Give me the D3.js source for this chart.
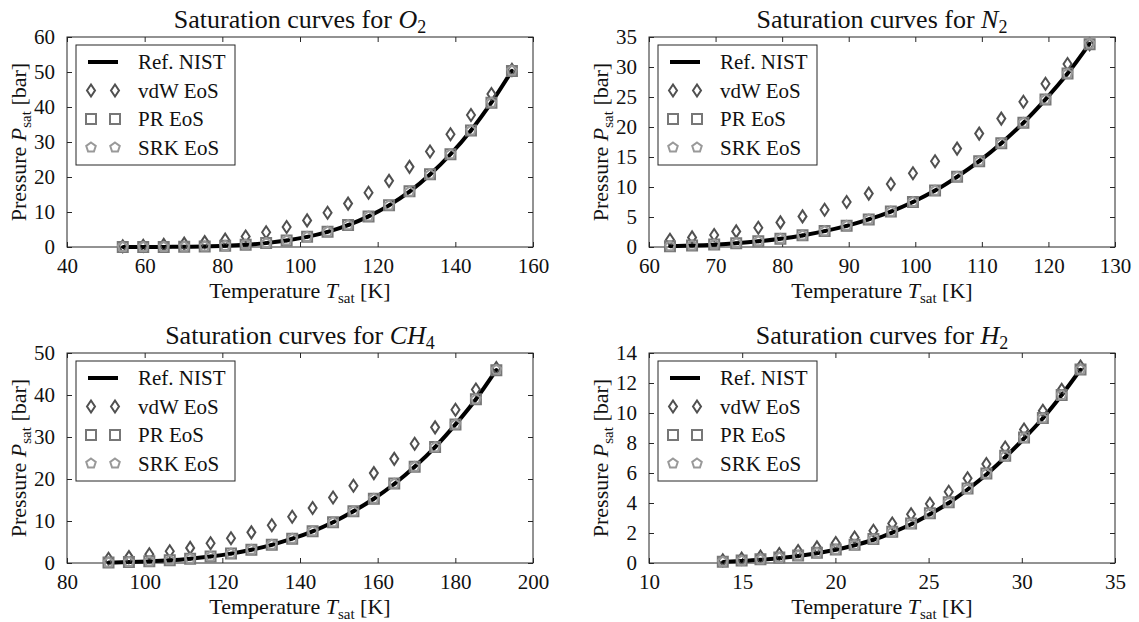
<!DOCTYPE html>
<html>
<head>
<meta charset="utf-8">
<script src="https://cdn.jsdelivr.net/npm/d3@7/dist/d3.min.js"></script>
<style>
  body { margin: 0; background: #fff; }
  text { font-family: 'Liberation Serif', serif; fill: #111; }
</style>
</head>
<body>
<div id="chart"></div>
<script>
// ---- data (T in K, P in bar) ----
const o2T = [54.36, 59.63, 64.91, 70.18, 75.46, 80.73, 86.01, 91.28, 96.56, 101.83,
  107.10, 112.38, 117.65, 122.93, 128.20, 133.48, 138.75, 144.03, 149.30, 154.58];
const o2Nist = [0.0015, 0.007, 0.023, 0.066, 0.157, 0.33, 0.63, 1.11, 1.85, 2.89,
  4.33, 6.25, 8.74, 11.9, 15.8, 20.7, 26.5, 33.3, 41.3, 50.4];
const o2Vdw = [0.2, 0.35, 0.6, 0.95, 1.4, 2.1, 3.0, 4.2, 5.7, 7.6,
  9.8, 12.4, 15.5, 18.9, 22.9, 27.3, 32.2, 37.7, 43.7, 50.6];
const o2Pr = [0.002, 0.008, 0.025, 0.068, 0.16, 0.33, 0.63, 1.11, 1.86, 2.9,
  4.35, 6.27, 8.75, 11.9, 15.9, 20.8, 26.5, 33.3, 41.2, 50.3];
const o2Srk = [0.002, 0.008, 0.024, 0.067, 0.16, 0.33, 0.63, 1.11, 1.85, 2.9,
  4.34, 6.26, 8.74, 11.9, 15.8, 20.7, 26.5, 33.3, 41.2, 50.4];

const n2T = [63.15, 66.47, 69.79, 73.10, 76.42, 79.74, 83.06, 86.38, 89.69, 93.01,
  96.33, 99.65, 102.97, 106.28, 109.60, 112.92, 116.24, 119.56, 122.87, 126.19];
const n2Nist = [0.125, 0.23, 0.39, 0.62, 0.94, 1.37, 1.93, 2.64, 3.52, 4.6,
  5.9, 7.5, 9.4, 11.7, 14.3, 17.3, 20.7, 24.6, 28.9, 33.9];
const n2Vdw = [1.2, 1.6, 2.0, 2.6, 3.2, 4.1, 5.1, 6.2, 7.5, 8.9,
  10.5, 12.3, 14.3, 16.4, 18.9, 21.4, 24.2, 27.2, 30.5, 33.8];
const n2Pr = [0.13, 0.24, 0.4, 0.63, 0.95, 1.38, 1.94, 2.65, 3.53, 4.6,
  5.9, 7.5, 9.4, 11.7, 14.3, 17.3, 20.7, 24.6, 28.9, 33.8];
const n2Srk = [0.13, 0.24, 0.4, 0.63, 0.95, 1.38, 1.94, 2.65, 3.53, 4.6,
  5.9, 7.5, 9.4, 11.7, 14.3, 17.3, 20.7, 24.6, 28.9, 33.9];

const ch4T = [90.69, 95.95, 101.20, 106.46, 111.71, 116.97, 122.23, 127.48, 132.74, 137.99,
  143.25, 148.51, 153.76, 159.02, 164.27, 169.53, 174.79, 180.04, 185.30, 190.56];
const ch4Nist = [0.12, 0.22, 0.38, 0.63, 1.02, 1.54, 2.23, 3.15, 4.33, 5.78,
  7.55, 9.7, 12.3, 15.3, 18.8, 22.9, 27.6, 33.0, 39.0, 46.0];
const ch4Vdw = [1.0, 1.4, 2.1, 2.8, 3.6, 4.7, 5.9, 7.3, 9.0, 11.0,
  13.1, 15.6, 18.4, 21.4, 24.8, 28.4, 32.3, 36.5, 41.3, 46.4];
const ch4Pr = [0.13, 0.23, 0.39, 0.64, 1.03, 1.55, 2.24, 3.16, 4.34, 5.8,
  7.56, 9.7, 12.3, 15.3, 18.9, 22.9, 27.6, 33.0, 39.0, 45.9];
const ch4Srk = [0.13, 0.23, 0.39, 0.64, 1.03, 1.55, 2.24, 3.16, 4.34, 5.8,
  7.56, 9.7, 12.3, 15.3, 18.9, 22.9, 27.6, 33.0, 39.0, 46.0];

const h2T = [13.96, 14.97, 15.98, 16.99, 18.00, 19.01, 20.02, 21.03, 22.04, 23.05,
  24.06, 25.07, 26.08, 27.09, 28.10, 29.11, 30.12, 31.13, 32.14, 33.15];
const h2Nist = [0.07, 0.13, 0.21, 0.32, 0.46, 0.65, 0.88, 1.18, 1.55, 2.03,
  2.58, 3.25, 4.0, 4.9, 5.9, 7.05, 8.3, 9.65, 11.2, 12.9];
const h2Vdw = [0.18, 0.29, 0.43, 0.6, 0.8, 1.04, 1.33, 1.7, 2.15, 2.63,
  3.25, 3.95, 4.75, 5.65, 6.6, 7.7, 8.9, 10.15, 11.55, 13.1];
const h2Pr = [0.09, 0.16, 0.25, 0.36, 0.5, 0.68, 0.9, 1.22, 1.6, 2.08,
  2.63, 3.32, 4.05, 4.96, 5.97, 7.15, 8.36, 9.67, 11.2, 12.9];
const h2Srk = [0.08, 0.15, 0.24, 0.35, 0.49, 0.67, 0.89, 1.2, 1.58, 2.06,
  2.61, 3.3, 4.03, 4.94, 5.95, 7.12, 8.33, 9.65, 11.2, 12.9];

const o2XTicks = [40, 60, 80, 100, 120, 140, 160];
const o2YTicks = [0, 10, 20, 30, 40, 50, 60];
const n2XTicks = [60, 70, 80, 90, 100, 110, 120, 130];
const n2YTicks = [0, 5, 10, 15, 20, 25, 30, 35];
const ch4XTicks = [80, 100, 120, 140, 160, 180, 200];
const ch4YTicks = [0, 10, 20, 30, 40, 50];
const h2XTicks = [10, 15, 20, 25, 30, 35];
const h2YTicks = [0, 2, 4, 6, 8, 10, 12, 14];

const legendLabels = ['Ref. NIST', 'vdW EoS', 'PR EoS', 'SRK EoS'];

const panels = [
  { gas: 'O', sub: '2', T: o2T, nist: o2Nist, vdw: o2Vdw, pr: o2Pr, srk: o2Srk, xt: o2XTicks, yt: o2YTicks, col: 0, row: 0 },
  { gas: 'N', sub: '2', T: n2T, nist: n2Nist, vdw: n2Vdw, pr: n2Pr, srk: n2Srk, xt: n2XTicks, yt: n2YTicks, col: 1, row: 0 },
  { gas: 'CH', sub: '4', T: ch4T, nist: ch4Nist, vdw: ch4Vdw, pr: ch4Pr, srk: ch4Srk, xt: ch4XTicks, yt: ch4YTicks, col: 0, row: 1 },
  { gas: 'H', sub: '2', T: h2T, nist: h2Nist, vdw: h2Vdw, pr: h2Pr, srk: h2Srk, xt: h2XTicks, yt: h2YTicks, col: 1, row: 1 },
];

// ---- layout ----
const W = 1139, H = 622;
const colX = [67, 649], rowY = [37, 353];
const pw = 466, ph = 210;
const tickFont = 21;

const cVdw = '#505050', cPr = '#777', cSrk = '#999', cAxis = '#262626';

const diamond = 'M0,-6L4,0L0,6L-4,0Z';
const square = 'M-5,-5H5V5H-5Z';
const pentagon = d3.range(5).map((k) => {
  const a = (-90 + 72 * k) * Math.PI / 180;
  return [5 * Math.cos(a), 5 * Math.sin(a)];
});
const pentPath = 'M' + pentagon.map((p) => p.join(',')).join('L') + 'Z';

const svg = d3.select('#chart').append('svg')
  .attr('width', W)
  .attr('height', H);

panels.forEach((p) => {
  const g = svg.append('g')
    .attr('transform', `translate(${colX[p.col]},${rowY[p.row]})`);

  const x = d3.scaleLinear().domain(d3.extent(p.xt)).range([0, pw]);
  const y = d3.scaleLinear().domain(d3.extent(p.yt)).range([ph, 0]);

  // axes, ticks pointing inward on all four sides
  const styleAxis = (sel) => {
    sel.select('.domain').remove();
    sel.selectAll('line').attr('stroke', cAxis);
    sel.selectAll('text').style('font-size', tickFont + 'px')
      .style('font-family', 'Liberation Serif').attr('fill', '#111');
  };
  g.append('g').attr('transform', `translate(0,${ph})`)
    .call(d3.axisBottom(x).tickValues(p.xt).tickSize(-5).tickPadding(11))
    .call(styleAxis);
  g.append('g')
    .call(d3.axisTop(x).tickValues(p.xt).tickSize(-5).tickFormat(''))
    .call(styleAxis);
  g.append('g')
    .call(d3.axisLeft(y).tickValues(p.yt).tickSize(-5).tickPadding(12))
    .call(styleAxis);
  g.append('g').attr('transform', `translate(${pw},0)`)
    .call(d3.axisRight(y).tickValues(p.yt).tickSize(-5).tickFormat(''))
    .call(styleAxis);

  g.append('rect')
    .attr('width', pw).attr('height', ph)
    .attr('fill', 'none').attr('stroke', cAxis).attr('stroke-width', 1);

  const pts = p.T.map((t, i) => ({ t, nist: p.nist[i], vdw: p.vdw[i], pr: p.pr[i], srk: p.srk[i] }));

  // reference curve
  const line = d3.line().x((d) => x(d.t)).y((d) => y(d.nist)).curve(d3.curveMonotoneX);
  g.append('path').datum(pts)
    .attr('d', line)
    .attr('fill', 'none').attr('stroke', '#000').attr('stroke-width', 4);

  const markers = (key, path, color) => {
    g.append('g').selectAll('path').data(pts).join('path')
      .attr('d', path)
      .attr('transform', (d) => `translate(${x(d.t)},${y(d[key])})`)
      .attr('fill', 'none').attr('stroke', color).attr('stroke-width', 2);
  };
  markers('vdw', diamond, cVdw);
  markers('pr', square, cPr);
  markers('srk', pentPath, cSrk);

  g.append('g').selectAll('circle').data(pts).join('circle')
    .attr('cx', (d) => x(d.t)).attr('cy', (d) => y(d.nist))
    .attr('r', 1.8).attr('fill', '#000');

  // title
  const title = g.append('text')
    .attr('x', pw / 2).attr('y', -9)
    .attr('text-anchor', 'middle')
    .style('font-size', '26px');
  title.append('tspan').text('Saturation curves for ');
  title.append('tspan').attr('font-style', 'italic').text(p.gas);
  title.append('tspan').attr('dy', 5).style('font-size', '18px').text(p.sub);

  // x label
  const xl = g.append('text')
    .attr('x', pw / 2).attr('y', ph + 51)
    .attr('text-anchor', 'middle')
    .style('font-size', '22px');
  xl.append('tspan').text('Temperature ');
  xl.append('tspan').attr('font-style', 'italic').text('T');
  xl.append('tspan').attr('dy', 5).style('font-size', '15px').text('sat');
  xl.append('tspan').attr('dy', -5).text(' [K]');

  // y label
  const yl = g.append('text')
    .attr('transform', `translate(-41,${ph / 2}) rotate(-90)`)
    .attr('text-anchor', 'middle')
    .style('font-size', '22px');
  yl.append('tspan').text('Pressure ');
  yl.append('tspan').attr('font-style', 'italic').text('P');
  yl.append('tspan').attr('dy', 5).style('font-size', '15px').text('sat');
  yl.append('tspan').attr('dy', -5).text(' [bar]');

  // legend
  const lg = g.append('g').attr('transform', 'translate(9,8)');
  lg.append('rect')
    .attr('width', 159).attr('height', 120)
    .attr('fill', '#fff').attr('stroke', cAxis).attr('stroke-width', 1);
  const rowH = 28.5;
  legendLabels.forEach((lab, i) => {
    const cy = 17 + i * rowH;
    if (i === 0) {
      lg.append('line').attr('x1', 12).attr('x2', 42).attr('y1', cy).attr('y2', cy)
        .attr('stroke', '#000').attr('stroke-width', 4);
    } else {
      const sym = [null, [diamond, cVdw], [square, cPr], [pentPath, cSrk]][i];
      [15, 39].forEach((mx) => {
        lg.append('path').attr('d', sym[0])
          .attr('transform', `translate(${mx},${cy})`)
          .attr('fill', 'none').attr('stroke', sym[1]).attr('stroke-width', 2);
      });
    }
    lg.append('text').attr('x', 62).attr('y', cy + 7)
      .style('font-size', tickFont + 'px').text(lab);
  });
});
</script>
</body>
</html>
